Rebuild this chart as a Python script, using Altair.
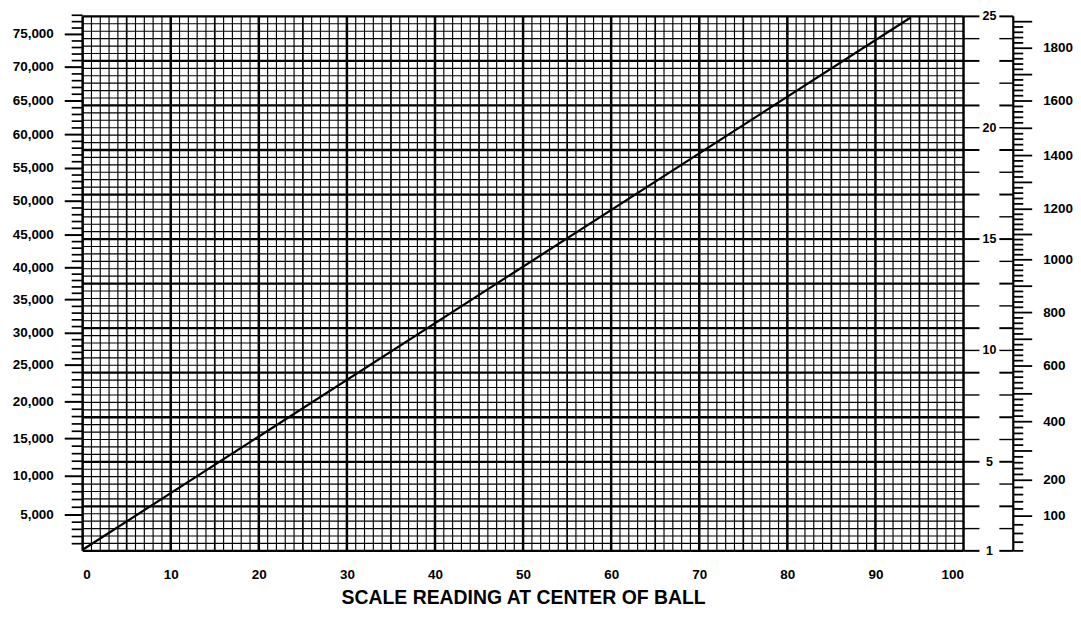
import altair as alt
import numpy as np
import pandas as pd

# ---- values ----
# calibration line: scale reading (x) vs. position on the linear 1-25 scale (y)
line_reading = [0, 94]
line_level = [1.05, 24.95]

# inner right scale (linear): ticks 1..25, labelled ones
inner_ticks = list(range(1, 26))
inner_labelled = [1, 5, 10, 15, 20, 25]

# left scale: labelled values and where they sit on the 1-25 scale
left_values = [0, 5000, 10000, 15000, 20000, 25000, 30000, 35000, 40000,
               45000, 50000, 55000, 60000, 65000, 70000, 75000, 78000]
left_pos = [1.0, 2.61, 4.35, 6.04, 7.69, 9.34, 10.77, 12.28, 13.71,
            15.18, 16.70, 18.17, 19.69, 21.20, 22.72, 24.19, 25.05]
left_labels = ["5,000", "10,000", "15,000", "20,000", "25,000", "30,000",
               "35,000", "40,000", "45,000", "50,000", "55,000", "60,000",
               "65,000", "70,000", "75,000"]

# outer right scale: labelled values and where they sit on the 1-25 scale
outer_values = [20, 100, 200, 400, 600, 800, 1000, 1200, 1400, 1600, 1800, 1920]
outer_pos = [1.0, 2.56, 4.17, 6.80, 9.30, 11.70, 14.07, 16.34, 18.75, 21.20, 23.57, 25.0]
outer_labelled = [100, 200, 400, 600, 800, 1000, 1200, 1400, 1600, 1800]

x_tick_values = list(range(0, 101, 10))

# ---- layout ----
W, H = 885, 537
FONT = "Liberation Sans"
INK = "#000000"

y_scale = alt.Scale(domain=[1, 25], nice=False, zero=False)
x_scale = alt.Scale(domain=[0, 100], nice=False, zero=False)
x_axis = alt.Axis(values=x_tick_values, title="SCALE READING AT CENTER OF BALL",
                  grid=False, ticks=False, tickSize=0, domain=False,
                  labelFont=FONT, labelFontSize=13.5, labelFontWeight="bold",
                  labelColor=INK, labelPadding=17,
                  titleFont=FONT, titleFontSize=19.5, titleFontWeight="bold",
                  titleColor=INK, titlePadding=7)

# grid tables
vgrid = pd.DataFrame({"x": np.arange(0, 101)})
vgrid["w"] = np.where(vgrid["x"] % 10 == 0, 2.5, np.where(vgrid["x"] % 5 == 0, 1.7, 1.15))
k = np.arange(0, 73)
hgrid = pd.DataFrame({"y": 1 + k / 3.0, "w": np.where(k % 6 == 0, 2.3, 1.15)})

v_rules = alt.Chart(vgrid).mark_rule(color=INK).encode(
    x=alt.X("x:Q", scale=x_scale, axis=x_axis),
    y=alt.value(0), y2=alt.value(H),
    strokeWidth=alt.StrokeWidth("w:Q", scale=None, legend=None),
)
h_rules = alt.Chart(hgrid).mark_rule(color=INK).encode(
    y=alt.Y("y:Q", scale=y_scale, axis=None),
    x=alt.value(0), x2=alt.value(W),
    strokeWidth=alt.StrokeWidth("w:Q", scale=None, legend=None),
)

line_df = pd.DataFrame({"reading": line_reading, "level": line_level})
line = alt.Chart(line_df).mark_line(color="#000000", strokeWidth=2.2).encode(
    x=alt.X("reading:Q", scale=x_scale, axis=x_axis),
    y=alt.Y("level:Q", scale=y_scale, axis=None),
)

# left scale ticks (every 1000) and labels
minor_left = np.arange(1000, 78001, 1000)
left_df = pd.DataFrame({"v": minor_left,
                        "pos": np.interp(minor_left, left_values, left_pos)})
left_df["major"] = left_df["v"] % 5000 == 0
left_minor = alt.Chart(left_df[~left_df["major"]]).mark_rule(color=INK, strokeWidth=1.7).encode(
    y=alt.Y("pos:Q", scale=y_scale, axis=None), x=alt.value(-11), x2=alt.value(0))
left_major = alt.Chart(left_df[left_df["major"]]).mark_rule(color=INK, strokeWidth=2).encode(
    y=alt.Y("pos:Q", scale=y_scale, axis=None), x=alt.value(-18), x2=alt.value(0))
lab_df = pd.DataFrame({"label": left_labels, "pos": left_pos[1:16]})
left_text = alt.Chart(lab_df).mark_text(align="right", baseline="middle", font=FONT,
                                        fontSize=13.5, fontWeight="bold", color=INK).encode(
    y=alt.Y("pos:Q", scale=y_scale, axis=None), x=alt.value(-29), text="label:N")

# inner right scale
inner_df = pd.DataFrame({"v": inner_ticks})
inner_df["w"] = np.where(inner_df["v"] % 2 == 1, 2.0, 1.4)
inner_a = alt.Chart(inner_df).mark_rule(color=INK).encode(
    y=alt.Y("v:Q", scale=y_scale, axis=None), x=alt.value(W), x2=alt.value(W + 16),
    strokeWidth=alt.StrokeWidth("w:Q", scale=None, legend=None))
inner_b = alt.Chart(inner_df).mark_rule(color=INK).encode(
    y=alt.Y("v:Q", scale=y_scale, axis=None), x=alt.value(W + 36), x2=alt.value(W + 50),
    strokeWidth=alt.StrokeWidth("w:Q", scale=None, legend=None))
inner_lab = pd.DataFrame({"v": inner_labelled, "label": [str(v) for v in inner_labelled]})
inner_text = alt.Chart(inner_lab).mark_text(align="center", baseline="middle", font=FONT,
                                            fontSize=12.5, fontWeight="bold", color=INK).encode(
    y=alt.Y("v:Q", scale=y_scale, axis=None), x=alt.value(W + 26), text="label:N")

# outer right scale
outer_axis_df = pd.DataFrame({"a": [1], "b": [25]})
outer_line = alt.Chart(outer_axis_df).mark_rule(color=INK, strokeWidth=2.2).encode(
    y=alt.Y("a:Q", scale=y_scale, axis=None), y2="b:Q", x=alt.value(W + 50))
minor_outer = np.arange(20, 1901, 20)
outer_df = pd.DataFrame({"v": minor_outer,
                         "pos": np.interp(minor_outer, outer_values, outer_pos)})
outer_df["major"] = outer_df["v"] % 100 == 0
outer_minor = alt.Chart(outer_df[~outer_df["major"]]).mark_rule(color=INK, strokeWidth=1.8).encode(
    y=alt.Y("pos:Q", scale=y_scale, axis=None), x=alt.value(W + 50), x2=alt.value(W + 60))
outer_major = alt.Chart(outer_df[outer_df["major"]]).mark_rule(color=INK, strokeWidth=1.8).encode(
    y=alt.Y("pos:Q", scale=y_scale, axis=None), x=alt.value(W + 50), x2=alt.value(W + 69))
outer_lab = pd.DataFrame({"label": [str(v) for v in outer_labelled],
                          "pos": np.interp(outer_labelled, outer_values, outer_pos)})
outer_text = alt.Chart(outer_lab).mark_text(align="left", baseline="middle", font=FONT,
                                            fontSize=13.5, fontWeight="bold", color=INK).encode(
    y=alt.Y("pos:Q", scale=y_scale, axis=None), x=alt.value(W + 80), text="label:N")

chart = alt.layer(
    v_rules, h_rules, line,
    left_minor, left_major, left_text,
    inner_a, inner_b, inner_text,
    outer_line, outer_minor, outer_major, outer_text,
).properties(
    width=W, height=H,
    padding={"left": 75, "top": 7, "right": 110, "bottom": 58},
    autosize=alt.AutoSizeParams(type="none"),
    background="white",
).configure_view(stroke=None)

chart.save("out.html", embed_options={"renderer": "svg", "actions": False})
